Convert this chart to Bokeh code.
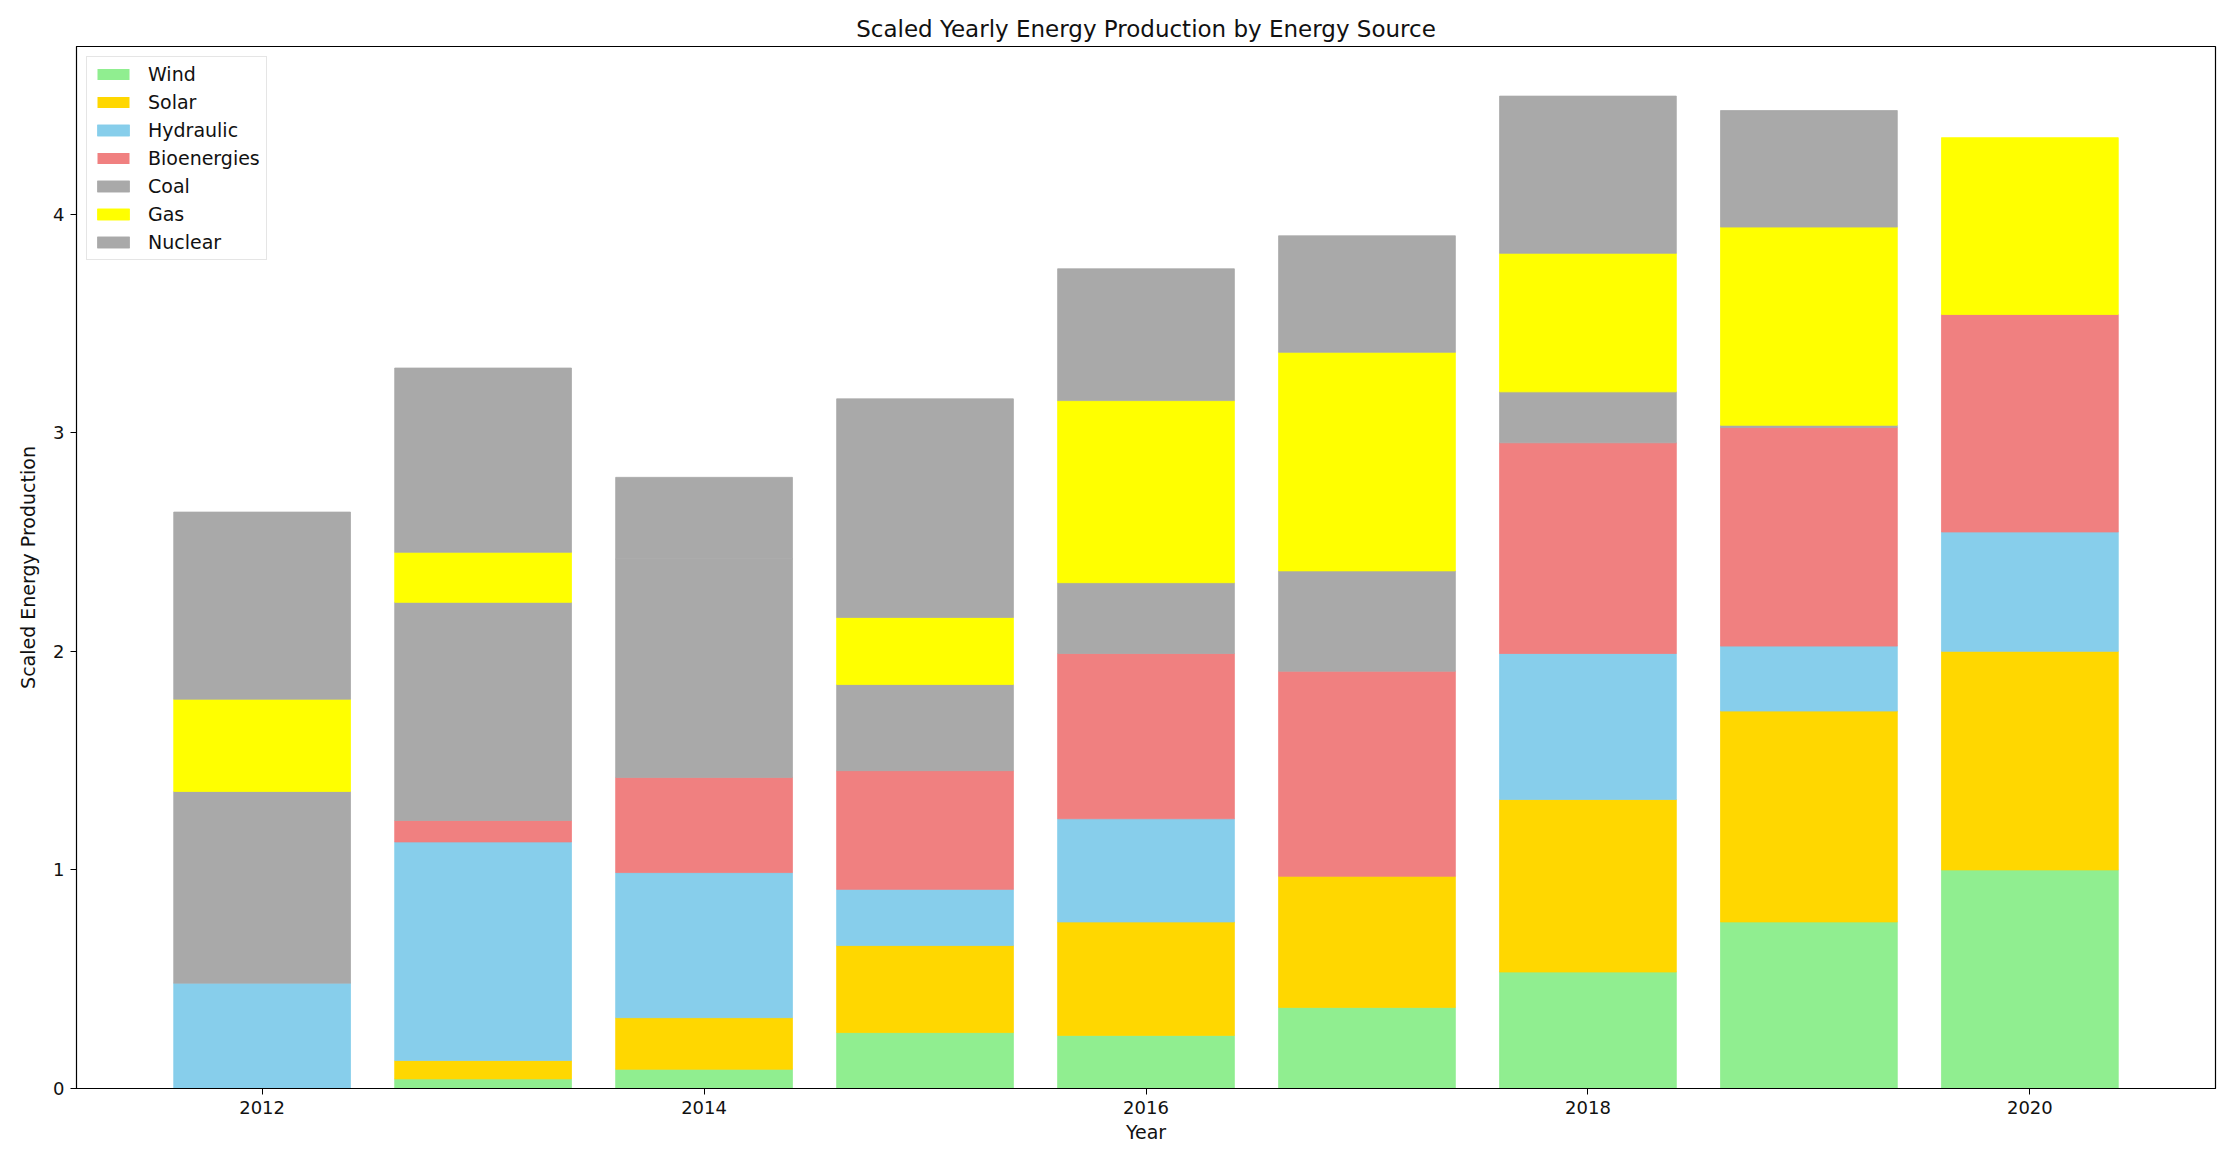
from bokeh.plotting import figure
from bokeh.models import ColumnDataSource, Range1d, FixedTicker, Legend
from bokeh.embed import file_html
from bokeh.resources import INLINE

years = [2012, 2013, 2014, 2015, 2016, 2017, 2018, 2019, 2020]
wind = [0.0, 0.044, 0.088, 0.256, 0.243, 0.371, 0.533, 0.762, 1.0]
solar = [0.0, 0.084, 0.236, 0.398, 0.519, 0.600, 0.789, 0.965, 1.0]
hydraulic = [0.482, 1.0, 0.664, 0.257, 0.472, 0.0, 0.668, 0.297, 0.546]
bioenergies = [0.0, 0.098, 0.435, 0.543, 0.756, 0.938, 0.964, 1.0, 0.995]
coal = [0.877, 0.998, 1.0, 0.394, 0.324, 0.459, 0.233, 0.01, 0.0]
gas = [0.422, 0.229, 0.0, 0.307, 0.833, 1.0, 0.634, 0.907, 0.809]
nuclear = [0.856, 0.843, 0.373, 1.0, 0.603, 0.533, 0.719, 0.533, 0.0]

sources = ["Wind", "Solar", "Hydraulic", "Bioenergies", "Coal", "Gas", "Nuclear"]
colors = ["#90EE90", "#FFD700", "#87CEEB", "#F08080", "#A9A9A9", "#FFFF00", "#A9A9A9"]
x_ticks = [2012, 2014, 2016, 2018, 2020]
y_ticks = [0, 1, 2, 3, 4]

series = [wind, solar, hydraulic, bioenergies, coal, gas, nuclear]
data = {"year": years}
for name, vals in zip(sources, series):
    data[name] = vals
    # edge only drawn for non-empty segments (hides anti-aliasing seams)
    data[name + "_la"] = [1.0 if v > 0 else 0.0 for v in vals]
source = ColumnDataSource(data)

totals = [sum(v) for v in zip(*series)]
ymax = max(totals) * 1.05
xmin = min(years) - 0.4
xmax = max(years) + 0.4
xm = (xmax - xmin) * 0.05

FONT = "DejaVu Sans"

p = figure(width=2234, height=1157, output_backend="svg", toolbar_location=None,
           x_range=Range1d(xmin - xm, xmax + xm), y_range=Range1d(0, ymax),
           title="Scaled Yearly Energy Production by Energy Source",
           min_border_left=76, min_border_right=19, min_border_top=46, min_border_bottom=69)

renderers = p.vbar_stack(sources, x="year", width=0.8, source=source,
                         fill_color=colors, line_color=colors, line_width=0.8,
                         line_alpha=[s + "_la" for s in sources])

legend = Legend(items=[(s, [r]) for s, r in zip(sources, renderers)], location="top_left")
legend.label_text_font = FONT
legend.label_text_font_size = "19px"
legend.label_text_color = "#111111"
legend.glyph_width = 40
legend.glyph_height = 14
legend.label_height = 20
legend.spacing = 6
legend.padding = 6
legend.margin = 10
legend.label_standoff = 15
legend.border_line_color = "#cccccc"
legend.border_line_width = 1.5
legend.background_fill_alpha = 0.8
p.add_layout(legend, "center")

p.title.align = "center"
p.title.text_font = FONT
p.title.text_font_size = "23px"
p.title.text_font_style = "normal"
p.title.text_color = "#111111"

p.xaxis.axis_label = "Year"
p.yaxis.axis_label = "Scaled Energy Production"
for ax in (p.xaxis[0], p.yaxis[0]):
    ax.axis_label_text_font = FONT
    ax.axis_label_text_font_size = "19px"
    ax.axis_label_text_font_style = "normal"
    ax.axis_label_text_color = "#111111"
    ax.major_label_text_font = FONT
    ax.major_label_text_font_size = "18px"
    ax.major_label_text_color = "#111111"
    ax.major_tick_out = 6
    ax.major_tick_in = 0
    ax.minor_tick_line_color = None
    ax.axis_line_color = "black"
    ax.major_tick_line_color = "black"
    ax.major_label_standoff = 6
p.xaxis.axis_label_standoff = 4
p.yaxis.axis_label_standoff = 11

p.xaxis.ticker = FixedTicker(ticks=x_ticks)
p.yaxis.ticker = FixedTicker(ticks=y_ticks)
p.xgrid.grid_line_color = None
p.ygrid.grid_line_color = None
p.outline_line_color = "black"
p.outline_line_width = 1.2

open("out.html", "w").write(file_html(p, INLINE))
